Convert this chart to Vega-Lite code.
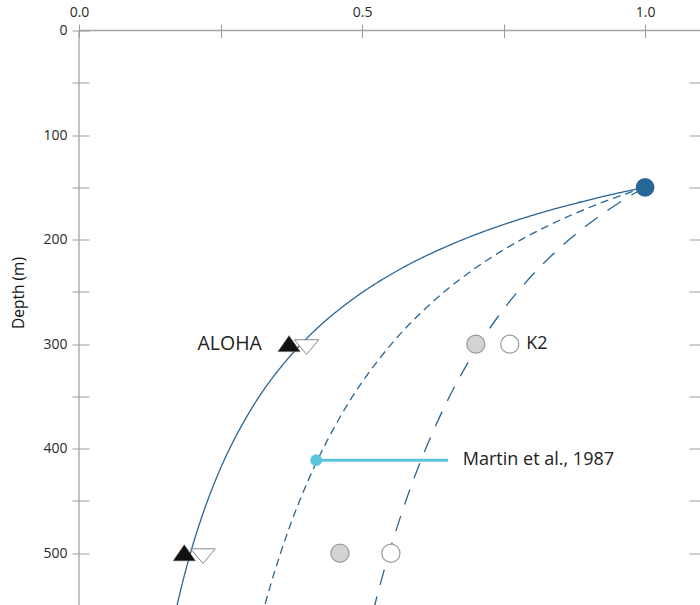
{
  "$schema": "https://vega.github.io/schema/vega-lite/v6.json",
  "width": 621,
  "height": 575,
  "autosize": {"type": "none"},
  "padding": {"left": 79, "top": 30.5, "right": 0, "bottom": 0},
  "config": {
    "view": {"stroke": null},
    "font": "Open Sans",
    "axis": {"grid": false, "tickColor": "#9d9d9d", "labelColor": "#2a2a2a", "titleColor": "#111", "labelFont": "Open Sans", "titleFont": "Open Sans", "labelFontSize": 14}
  },
  "resolve": {"axis": {"x": "independent", "y": "independent"}},
  "datasets": {
    "curves": [
      {"b": "1.35", "depth": 150, "frac": 1.0},
      {"b": "1.35", "depth": 155, "frac": 0.9567},
      {"b": "1.35", "depth": 160, "frac": 0.9166},
      {"b": "1.35", "depth": 170, "frac": 0.8445},
      {"b": "1.35", "depth": 180, "frac": 0.7818},
      {"b": "1.35", "depth": 190, "frac": 0.7268},
      {"b": "1.35", "depth": 200, "frac": 0.6782},
      {"b": "1.35", "depth": 215, "frac": 0.6151},
      {"b": "1.35", "depth": 230, "frac": 0.5616},
      {"b": "1.35", "depth": 250, "frac": 0.5018},
      {"b": "1.35", "depth": 275, "frac": 0.4412},
      {"b": "1.35", "depth": 300, "frac": 0.3923},
      {"b": "1.35", "depth": 330, "frac": 0.3449},
      {"b": "1.35", "depth": 360, "frac": 0.3067},
      {"b": "1.35", "depth": 400, "frac": 0.2660},
      {"b": "1.35", "depth": 440, "frac": 0.2339},
      {"b": "1.35", "depth": 480, "frac": 0.2080},
      {"b": "1.35", "depth": 520, "frac": 0.1867},
      {"b": "1.35", "depth": 550, "frac": 0.1731},
      {"b": "0.858", "depth": 150, "frac": 1.0},
      {"b": "0.858", "depth": 155, "frac": 0.9723},
      {"b": "0.858", "depth": 160, "frac": 0.9461},
      {"b": "0.858", "depth": 170, "frac": 0.8982},
      {"b": "0.858", "depth": 180, "frac": 0.8552},
      {"b": "0.858", "depth": 190, "frac": 0.8164},
      {"b": "0.858", "depth": 200, "frac": 0.7813},
      {"b": "0.858", "depth": 215, "frac": 0.7343},
      {"b": "0.858", "depth": 230, "frac": 0.6930},
      {"b": "0.858", "depth": 250, "frac": 0.6451},
      {"b": "0.858", "depth": 275, "frac": 0.5945},
      {"b": "0.858", "depth": 300, "frac": 0.5517},
      {"b": "0.858", "depth": 330, "frac": 0.5084},
      {"b": "0.858", "depth": 360, "frac": 0.4718},
      {"b": "0.858", "depth": 400, "frac": 0.4311},
      {"b": "0.858", "depth": 440, "frac": 0.3972},
      {"b": "0.858", "depth": 480, "frac": 0.3686},
      {"b": "0.858", "depth": 520, "frac": 0.3442},
      {"b": "0.858", "depth": 550, "frac": 0.3280},
      {"b": "0.5", "depth": 150, "frac": 1.0},
      {"b": "0.5", "depth": 155, "frac": 0.9837},
      {"b": "0.5", "depth": 160, "frac": 0.9682},
      {"b": "0.5", "depth": 170, "frac": 0.9393},
      {"b": "0.5", "depth": 180, "frac": 0.9129},
      {"b": "0.5", "depth": 190, "frac": 0.8885},
      {"b": "0.5", "depth": 200, "frac": 0.8660},
      {"b": "0.5", "depth": 215, "frac": 0.8353},
      {"b": "0.5", "depth": 230, "frac": 0.8076},
      {"b": "0.5", "depth": 250, "frac": 0.7746},
      {"b": "0.5", "depth": 275, "frac": 0.7385},
      {"b": "0.5", "depth": 300, "frac": 0.7071},
      {"b": "0.5", "depth": 330, "frac": 0.6742},
      {"b": "0.5", "depth": 360, "frac": 0.6455},
      {"b": "0.5", "depth": 400, "frac": 0.6124},
      {"b": "0.5", "depth": 440, "frac": 0.5839},
      {"b": "0.5", "depth": 480, "frac": 0.5590},
      {"b": "0.5", "depth": 520, "frac": 0.5371},
      {"b": "0.5", "depth": 550, "frac": 0.5222}
    ],
    "obs": [
      {"site": "ALOHA", "kind": "up", "depth": 300, "frac": 0.371},
      {"site": "ALOHA", "kind": "up", "depth": 500, "frac": 0.186},
      {"site": "ALOHA", "kind": "down", "depth": 300, "frac": 0.402},
      {"site": "ALOHA", "kind": "down", "depth": 500, "frac": 0.219},
      {"site": "K2", "kind": "grey", "depth": 300, "frac": 0.701},
      {"site": "K2", "kind": "grey", "depth": 500, "frac": 0.461},
      {"site": "K2", "kind": "white", "depth": 300, "frac": 0.761},
      {"site": "K2", "kind": "white", "depth": 500, "frac": 0.551},
      {"site": "ref", "kind": "source", "depth": 150, "frac": 1.0}
    ],
    "martin": [
      {"depth": 411, "frac": 0.419, "frac2": 0.652}
    ],
    "labels": [
      {"text": "ALOHA", "depth": 300, "frac": 0.323, "align": "right"},
      {"text": "K2", "depth": 300, "frac": 0.79, "align": "left"},
      {"text": "Martin et al., 1987", "depth": 411, "frac": 0.678, "align": "left"}
    ]
  },
  "layer": [
    {
      "data": {"values": [{"frac": 0}]},
      "mark": {"type": "rule", "color": "#a3a3a3", "strokeWidth": 1.3},
      "encoding": {
        "x": {
          "field": "frac", "type": "quantitative",
          "scale": {"domain": [0, 1.097], "nice": false, "zero": false},
          "axis": {
            "orient": "top", "values": [0, 0.25, 0.5, 0.75, 1],
            "labelExpr": "datum.value == 0.25 || datum.value == 0.75 ? '' : format(datum.value, '.1f')",
            "offset": -7, "tickSize": 13.5, "domain": false, "title": null,
            "labelPadding": 5, "labelFontSize": 14, "labelFlush": false, "labelOverlap": false
          }
        }
      }
    },
    {
      "data": {"values": [{"depth": 0}]},
      "mark": {"type": "rule", "color": "#a3a3a3", "strokeWidth": 1.3},
      "encoding": {
        "y": {
          "field": "depth", "type": "quantitative",
          "scale": {"domain": [0, 550], "nice": false, "reverse": true, "zero": false},
          "axis": {
            "orient": "left", "values": [0, 50, 100, 150, 200, 250, 300, 350, 400, 450, 500, 550],
            "labelExpr": "datum.value % 100 == 0 ? datum.value : ''",
            "offset": -10, "tickSize": 17, "domain": false,
            "title": "Depth (m)", "titleFontSize": 15.5, "titleFontWeight": "normal",
            "titleX": -71, "titleY": 262, "titleAngle": -90, "titleBaseline": "middle", "titleAlign": "center",
            "labelPadding": 5, "labelFontSize": 14, "labelFlush": false
          }
        }
      }
    },
    {
      "data": {"name": "curves"},
      "mark": {"type": "line", "color": "#2a6594", "strokeWidth": 1.3, "interpolate": "catmull-rom", "clip": true},
      "encoding": {
        "x": {"field": "frac", "type": "quantitative", "axis": null},
        "y": {
          "field": "depth", "type": "quantitative",
          "axis": {
            "orient": "right", "values": [50, 100, 150, 200, 250, 300, 350, 400, 450, 500, 550],
            "labels": false, "domain": false, "title": null, "offset": -11, "tickSize": 11
          }
        },
        "strokeDash": {
          "field": "b", "type": "nominal",
          "scale": {"domain": ["1.35", "0.858", "0.5"], "range": [[1, 0], [8, 5], [16, 12]]},
          "legend": null
        },
        "order": {"field": "depth", "type": "quantitative"}
      }
    },
    {
      "data": {"name": "martin"},
      "mark": {"type": "rule", "color": "#5bc5de", "strokeWidth": 3},
      "encoding": {
        "x": {"field": "frac", "type": "quantitative", "axis": null},
        "x2": {"field": "frac2"},
        "y": {"field": "depth", "type": "quantitative", "axis": null}
      }
    },
    {
      "data": {"name": "martin"},
      "mark": {"type": "point", "filled": true, "color": "#5bc5de", "size": 140, "opacity": 1},
      "encoding": {
        "x": {"field": "frac", "type": "quantitative", "axis": null},
        "y": {"field": "depth", "type": "quantitative", "axis": null}
      }
    },
    {
      "data": {"name": "obs"},
      "transform": [{"filter": "datum.kind == 'up'"}],
      "mark": {"type": "point", "shape": "M-1,0.68L0,-0.77L1,0.68Z", "filled": true, "fill": "#111111", "stroke": "#555555", "strokeWidth": 0.6, "size": 484, "opacity": 1},
      "encoding": {
        "x": {"field": "frac", "type": "quantitative", "axis": null},
        "y": {"field": "depth", "type": "quantitative", "axis": null}
      }
    },
    {
      "data": {"name": "obs"},
      "transform": [{"filter": "datum.kind == 'down'"}],
      "mark": {"type": "point", "shape": "M-1,-0.36L1,-0.36L0,0.84Z", "filled": true, "fill": "#ffffff", "stroke": "#6a6a6a", "strokeWidth": 0.8, "size": 600, "opacity": 1},
      "encoding": {
        "x": {"field": "frac", "type": "quantitative", "axis": null},
        "y": {"field": "depth", "type": "quantitative", "axis": null}
      }
    },
    {
      "data": {"name": "obs"},
      "transform": [{"filter": "datum.kind == 'grey'"}],
      "mark": {"type": "point", "shape": "circle", "filled": true, "fill": "#d3d3d5", "stroke": "#9b9b9b", "strokeWidth": 1.2, "size": 330, "opacity": 1},
      "encoding": {
        "x": {"field": "frac", "type": "quantitative", "axis": null},
        "y": {"field": "depth", "type": "quantitative", "axis": null}
      }
    },
    {
      "data": {"name": "obs"},
      "transform": [{"filter": "datum.kind == 'white'"}],
      "mark": {"type": "point", "shape": "circle", "filled": true, "fill": "#ffffff", "stroke": "#9b9b9b", "strokeWidth": 1.2, "size": 330, "opacity": 1},
      "encoding": {
        "x": {"field": "frac", "type": "quantitative", "axis": null},
        "y": {"field": "depth", "type": "quantitative", "axis": null}
      }
    },
    {
      "data": {"name": "obs"},
      "transform": [{"filter": "datum.kind == 'source'"}],
      "mark": {"type": "point", "shape": "circle", "filled": true, "color": "#276795", "size": 350, "opacity": 1},
      "encoding": {
        "x": {"field": "frac", "type": "quantitative", "axis": null},
        "y": {"field": "depth", "type": "quantitative", "axis": null}
      }
    },
    {
      "data": {"name": "labels"},
      "transform": [{"filter": "datum.align == 'right'"}],
      "mark": {"type": "text", "align": "right", "baseline": "middle", "fontSize": 19.5, "color": "#222222", "font": "Open Sans"},
      "encoding": {
        "x": {"field": "frac", "type": "quantitative", "axis": null},
        "y": {"field": "depth", "type": "quantitative", "axis": null},
        "text": {"field": "text"}
      }
    },
    {
      "data": {"name": "labels"},
      "transform": [{"filter": "datum.align == 'left'"}],
      "mark": {"type": "text", "align": "left", "baseline": "middle", "fontSize": 18, "color": "#222222", "font": "Open Sans"},
      "encoding": {
        "x": {"field": "frac", "type": "quantitative", "axis": null},
        "y": {"field": "depth", "type": "quantitative", "axis": null},
        "text": {"field": "text"}
      }
    }
  ]
}
